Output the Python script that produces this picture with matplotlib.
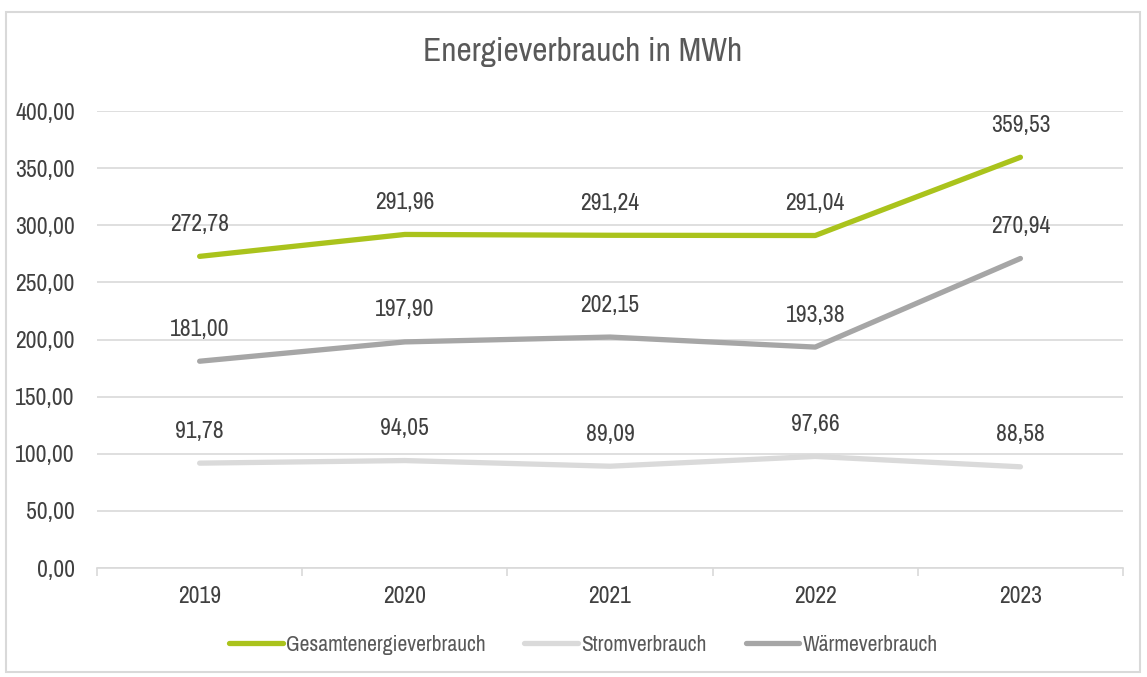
"""Energieverbrauch in MWh, line chart 2019-2023."""

import matplotlib.pyplot as plt
from matplotlib import font_manager
from matplotlib.patches import Rectangle
from matplotlib.ticker import FuncFormatter

years = ["2019", "2020", "2021", "2022", "2023"]
gesamt = [272.78, 291.96, 291.24, 291.04, 359.53]
strom = [91.78, 94.05, 89.09, 97.66, 88.58]
waerme = [181.00, 197.90, 202.15, 193.38, 270.94]

TEXT = "#404040"
GRID = "#d9d9d9"

# narrow face if one is installed, otherwise Roboto
narrow = sorted({f.name for f in font_manager.fontManager.ttflist
                 if "Narrow" in f.name or "Condensed" in f.name})
plt.rcParams["font.family"] = narrow[:1] + ["Roboto", "DejaVu Sans"]


def de(v, _=None):
    return f"{v:.2f}".replace(".", ",")


fig = plt.figure(figsize=(11.47, 6.77), dpi=100)
ax = fig.add_axes([0.0846, 0.161, 0.8945, 0.675])

series = [
    ("Gesamtenergieverbrauch", gesamt, "#aac31c"),
    ("Stromverbrauch", strom, "#dadada"),
    ("Wärmeverbrauch", waerme, "#a6a6a6"),
]
x = range(len(years))
for name, vals, color in series:
    ax.plot(x, vals, color=color, linewidth=3.8, solid_capstyle="round",
            solid_joinstyle="round", label=name, zorder=3)
    for xi, v in zip(x, vals):
        ax.annotate(de(v), (xi, v), xytext=(0, 23), textcoords="offset points",
                    ha="center", va="center", fontsize=17, color=TEXT)

ax.set_xlim(-0.5, len(years) - 0.5)
ax.set_ylim(0, 400)
ax.set_yticks(range(0, 401, 50))
ax.yaxis.set_major_formatter(FuncFormatter(de))
ax.set_xticks(list(x))
ax.set_xticklabels(years)
ax.set_xticks([i - 0.5 for i in range(len(years) + 1)], minor=True)
ax.grid(axis="y", color=GRID, linewidth=1.2, zorder=0)
for s in ["top", "right", "left"]:
    ax.spines[s].set_visible(False)
ax.spines["bottom"].set_color(GRID)
ax.spines["bottom"].set_linewidth(1.2)
ax.tick_params(axis="y", length=0, pad=16, labelsize=17, labelcolor=TEXT)
ax.tick_params(axis="x", which="major", length=0, pad=13, labelsize=17, labelcolor=TEXT)
ax.tick_params(axis="x", which="minor", length=6, color=GRID, width=1.2)

fig.text(0.508, 0.923, "Energieverbrauch in MWh", ha="center", va="center",
         fontsize=24, color="#595959")

ax.legend(loc="center", bbox_to_anchor=(0.474, -0.168), ncol=3, frameon=False,
          fontsize=15.5, labelcolor="#595959", handlelength=2.5, columnspacing=1.8,
          handletextpad=0.15)

fig.patches.append(Rectangle((6 / 1147, 5 / 677), 1134 / 1147, 660 / 677,
                             transform=fig.transFigure, fill=False,
                             edgecolor=GRID, linewidth=1.5))

fig.savefig("out.png", dpi=100)
